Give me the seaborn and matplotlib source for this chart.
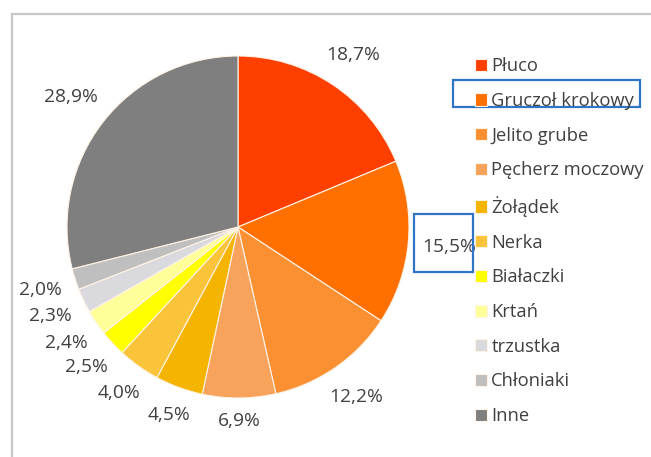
import numpy as np
import matplotlib
matplotlib.use("Agg")
import matplotlib.pyplot as plt
import seaborn as sns
from matplotlib.patches import Rectangle

# dane z wykresu (udział procentowy)
categories = ['Płuco', 'Gruczoł krokowy', 'Jelito grube', 'Pęcherz moczowy', 'Żołądek',
              'Nerka', 'Białaczki', 'Krtań', 'trzustka', 'Chłoniaki', 'Inne']
values = [18.7, 15.5, 12.2, 6.9, 4.5, 4.0, 2.5, 2.4, 2.3, 2.0, 28.9]
colors = ['#FF3F00', '#FF7000', '#FB9032', '#F8A35C', '#F5B400',
          '#F9C33A', '#FFFF00', '#FFFF99', '#D9D9DE', '#BFBFBF', '#7F7F7F']

sns.set_theme(style='white')
plt.rcParams['font.family'] = ['Open Sans', 'DejaVu Sans']

fig = plt.figure(figsize=(6.51, 4.57), dpi=100)
fig.patch.set_facecolor('white')

# oś koła: środek ok. (238, 227) px, promień ok. 171 px
cx, cy, r = 238 / 651, 1 - 227 / 457, 171
ax = fig.add_axes([cx - r / 651, cy - r / 457, 2 * r / 651, 2 * r / 457])

total = sum(values)
wedges, texts, autotexts = ax.pie(
    values, colors=colors, startangle=90, counterclock=False,
    autopct=lambda p: f'{p * total / 100:.1f}'.replace('.', ',') + '%',
    pctdistance=1.2,
    wedgeprops={'edgecolor': '#FFF3E6', 'linewidth': 0.8},
    textprops={'fontsize': 13.8, 'color': '#404040'})
ax.set_xlim(-1, 1)
ax.set_ylim(-1, 1)
ax.set_aspect('auto')
ax.axis('off')

# etykiety na zewnątrz: krawędź tekstu w stałej odległości od koła (jak w Excelu)
fig.canvas.draw()
renderer = fig.canvas.get_renderer()
for w, t in zip(wedges, autotexts):
    th = np.radians((w.theta1 + w.theta2) / 2)
    bb = t.get_window_extent(renderer)
    hw, hh = bb.width / 2, bb.height / 2
    d = 1.08 + (hw * abs(np.cos(th)) + hh * abs(np.sin(th))) / r
    t.set_position((d * np.cos(th), d * np.sin(th)))

fig.legend(wedges, categories, loc='upper left', bbox_to_anchor=(468 / 651, 1 - 50 / 457),
           frameon=False, fontsize=13.2, handlelength=0.65, handleheight=0.65,
           handletextpad=0.22, labelspacing=0.91, borderaxespad=0,
           labelcolor='#404040')

# ramka wykresu (tylko lewa i górna krawędź widoczna)
fig.add_artist(Rectangle((12 / 651, -0.2), 1.2, 1.2 - 14 / 457,
                         transform=fig.transFigure, fill=False,
                         edgecolor='#C8C8C8', linewidth=1.6))

# niebieskie wyróżnienia
for x0, y0, x1, y1 in [(453, 80, 640, 107), (414, 214, 473, 272)]:
    fig.add_artist(Rectangle((x0 / 651, 1 - y1 / 457), (x1 - x0) / 651, (y1 - y0) / 457,
                             transform=fig.transFigure, fill=False,
                             edgecolor='#2E75C6', linewidth=1.6))

fig.savefig('out.png', dpi=100, facecolor='white')
